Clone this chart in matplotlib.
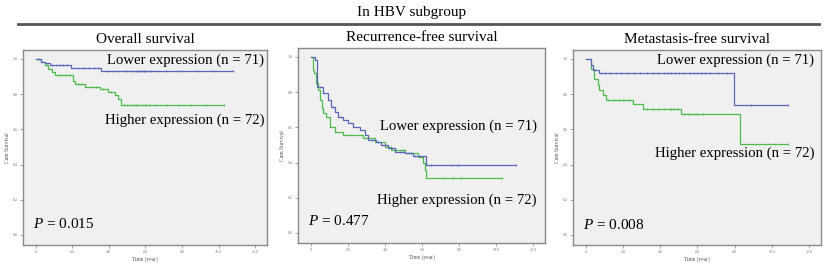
import numpy as np
import matplotlib
matplotlib.use("Agg")
import matplotlib.pyplot as plt

# ─── Data ─────────────────────────────────────────────────────────────────────

panel_titles = ["Overall survival", "Recurrence-free survival", "Metastasis-free survival"]
p_values     = ["0.015", "0.477", "0.008"]
lower_label  = "Lower expression (n = 71)"
higher_label = "Higher expression (n = 72)"

# Overall survival
os_low_t   = [0.3, 0.5, 0.76, 1.95, 3.55]
os_low_s   = [0.985, 0.977, 0.964, 0.949, 0.929]
os_low_c   = [0.9, 1.1, 1.3, 1.5, 1.7, 2.3, 2.6, 2.9, 3.2, 3.4, 3.9, 4.2, 4.5, 4.8, 5.0,
              5.2, 5.4, 5.5, 5.6, 5.7, 5.8, 5.9, 6.0, 6.1, 6.3, 6.7, 7.1, 7.8, 8.0, 8.8,
              9.7, 10.8]
os_high_t  = [0.31, 0.49, 0.67, 0.86, 1.04, 2.04, 2.13, 2.67, 3.49, 3.95, 4.31, 4.49, 4.67]
os_high_s  = [0.983, 0.964, 0.945, 0.926, 0.911, 0.873, 0.86, 0.841, 0.831, 0.81, 0.794,
              0.775, 0.737]
os_high_c  = [0.2, 0.6, 1.2, 1.4, 1.6, 1.8, 2.3, 2.5, 3.0, 3.3, 3.7, 4.1, 4.8, 5.0, 5.2,
              5.4, 5.5, 5.6, 5.8, 6.0, 6.2, 6.5, 7.2, 7.8, 8.5, 9.3, 10.3]

# Recurrence-free survival
rfs_low_t  = [0.22, 0.31, 0.67, 0.94, 1.11, 1.29, 1.48, 1.74, 2.01, 2.28, 2.64, 2.91,
              3.09, 3.54, 3.81, 4.17, 4.53, 5.07, 5.52, 6.2]
rfs_low_s  = [0.983, 0.831, 0.794, 0.756, 0.718, 0.69, 0.661, 0.642, 0.623, 0.604, 0.585,
              0.557, 0.528, 0.519, 0.5, 0.481, 0.462, 0.453, 0.44, 0.388]
rfs_low_c  = [0.5, 1.2, 1.6, 3.3, 3.6, 4.0, 4.4, 4.8, 5.0, 5.3, 5.6, 5.9, 6.5, 7.6, 7.9,
              8.0, 11.1]
rfs_high_t = [0.13, 0.18, 0.27, 0.40, 0.49, 0.58, 0.67, 0.79, 1.03, 1.29, 1.74, 2.82,
              3.45, 3.99, 4.35, 5.07, 5.79, 6.06, 6.15, 6.24]
rfs_high_s = [0.926, 0.907, 0.85, 0.81, 0.756, 0.708, 0.68, 0.66, 0.604, 0.576, 0.557,
              0.538, 0.519, 0.49, 0.472, 0.453, 0.434, 0.40, 0.36, 0.3125]
rfs_high_c = [0.3, 1.3, 2.1, 4.3, 4.6, 5.0, 5.4, 6.0, 7.2, 7.7, 8.1, 10.3]

# Metastasis-free survival
mfs_low_t  = [0.27, 0.36, 0.72, 7.94]
mfs_low_s  = [0.964, 0.94, 0.922, 0.737]
mfs_low_c  = [0.5, 0.8, 1.0, 1.3, 1.6, 1.9, 2.2, 2.6, 2.9, 3.3, 3.6, 3.9, 4.2, 4.4, 4.6,
              4.8, 5.0, 5.3, 5.6, 5.8, 6.0, 6.2, 6.4, 6.7, 7.1, 7.6, 8.9, 10.9]
mfs_high_t = [0.27, 0.45, 0.63, 0.72, 0.90, 1.08, 2.51, 3.05, 5.11, 8.30]
mfs_high_s = [0.945, 0.888, 0.85, 0.822, 0.794, 0.765, 0.746, 0.718, 0.69, 0.519]
mfs_high_c = [1.2, 1.5, 1.8, 2.0, 2.3, 3.3, 3.6, 3.9, 4.2, 4.5, 4.6, 4.7, 4.9, 5.3, 5.5,
              5.6, 5.8, 6.0, 6.3, 10.2, 10.9]

# ─── Style ────────────────────────────────────────────────────────────────────

plt.rcParams["font.family"] = ["Liberation Serif", "DejaVu Serif"]
plt.rcParams["mathtext.fontset"] = "custom"
plt.rcParams["mathtext.rm"] = "Liberation Serif"
plt.rcParams["mathtext.it"] = "Liberation Serif:italic"
c_low   = "#5966b8"
c_high  = "#4dbb4d"
face    = "#f0f0f0"

fig = plt.figure(figsize=(8.25, 2.69), dpi=100)

fig.text(0.499, 0.955, "In HBV subgroup", ha="center", va="center", fontsize=11)
fig.add_artist(plt.Line2D([18 / 825, 819 / 825], [1 - 24 / 269] * 2,
                          color="#555555", lw=2))

boxes = [(23, 267, 50, 245), (298, 545, 48, 243), (573, 821, 50, 245)]
curves = [
    (os_low_t, os_low_s, os_low_c, os_high_t, os_high_s, os_high_c),
    (rfs_low_t, rfs_low_s, rfs_low_c, rfs_high_t, rfs_high_s, rfs_high_c),
    (mfs_low_t, mfs_low_s, mfs_low_c, mfs_high_t, mfs_high_s, mfs_high_c),
]
# label positions (x, y) in data coords
low_pos  = [(12.5, 0.995), (12.2, 0.606), (12.3, 0.99)]
high_pos = [(12.5, 0.65), (12.2, 0.186), (12.3, 0.464)]
p_pos    = [(-0.16, 0.02), (-0.16, 0.028), (-0.15, 0.018)]


def km(ax, t, s, cens, color):
    t = np.asarray(t)
    s = np.asarray(s)
    end = max(cens[-1], t[-1])
    xs = np.concatenate([[0], t, [end]])
    ys = np.concatenate([[1.0], s, [s[-1]]])
    ax.step(xs, ys, where="post", color=color, lw=0.9)
    idx = np.searchsorted(t, cens, side="right")
    cy = np.concatenate([[1.0], s])[idx]
    ax.plot(cens, cy, ls="none", marker="|", ms=2, mew=0.6, color=color)


for i, (l, r, tp, bt) in enumerate(boxes):
    ax = fig.add_axes([l / 825, 1 - bt / 269, (r - l) / 825, (bt - tp) / 269])
    ax.set_facecolor(face)
    for sp in ax.spines.values():
        sp.set_color("#8a8a8a")
        sp.set_linewidth(1.0)

    lt, ls_, lc, ht, hs, hc = curves[i]
    km(ax, ht, hs, hc, c_high)
    km(ax, lt, ls_, lc, c_low)

    ax.set_xlim(-0.7, 12.65)
    ax.set_ylim(-0.057, 1.051)
    ax.set_xticks(np.arange(0, 13, 2))
    ax.set_xticklabels(["0"] + [f"{v:.1f}" for v in range(2, 13, 2)])
    ax.set_yticks(np.arange(0, 1.01, 0.2))
    ax.set_yticklabels([f"{v:.1f}" for v in np.arange(0, 1.01, 0.2)])
    ax.tick_params(length=2, width=0.5, labelsize=3, colors="#777777", pad=1.5)
    ax.set_xlabel("Time (year)", fontsize=4, color="#555555", labelpad=2)
    ax.set_ylabel("Cum Survival", fontsize=4, color="#555555", labelpad=2)
    ax.set_title(panel_titles[i], fontsize=11, pad=5)

    ax.text(*low_pos[i], lower_label, ha="right", va="center", fontsize=10.6)
    ax.text(*high_pos[i], higher_label, ha="right", va="center", fontsize=10.6)
    ax.text(*p_pos[i], r"$P$ = " + p_values[i], ha="left", va="bottom", fontsize=11)

fig.savefig("out.png", dpi=100)
